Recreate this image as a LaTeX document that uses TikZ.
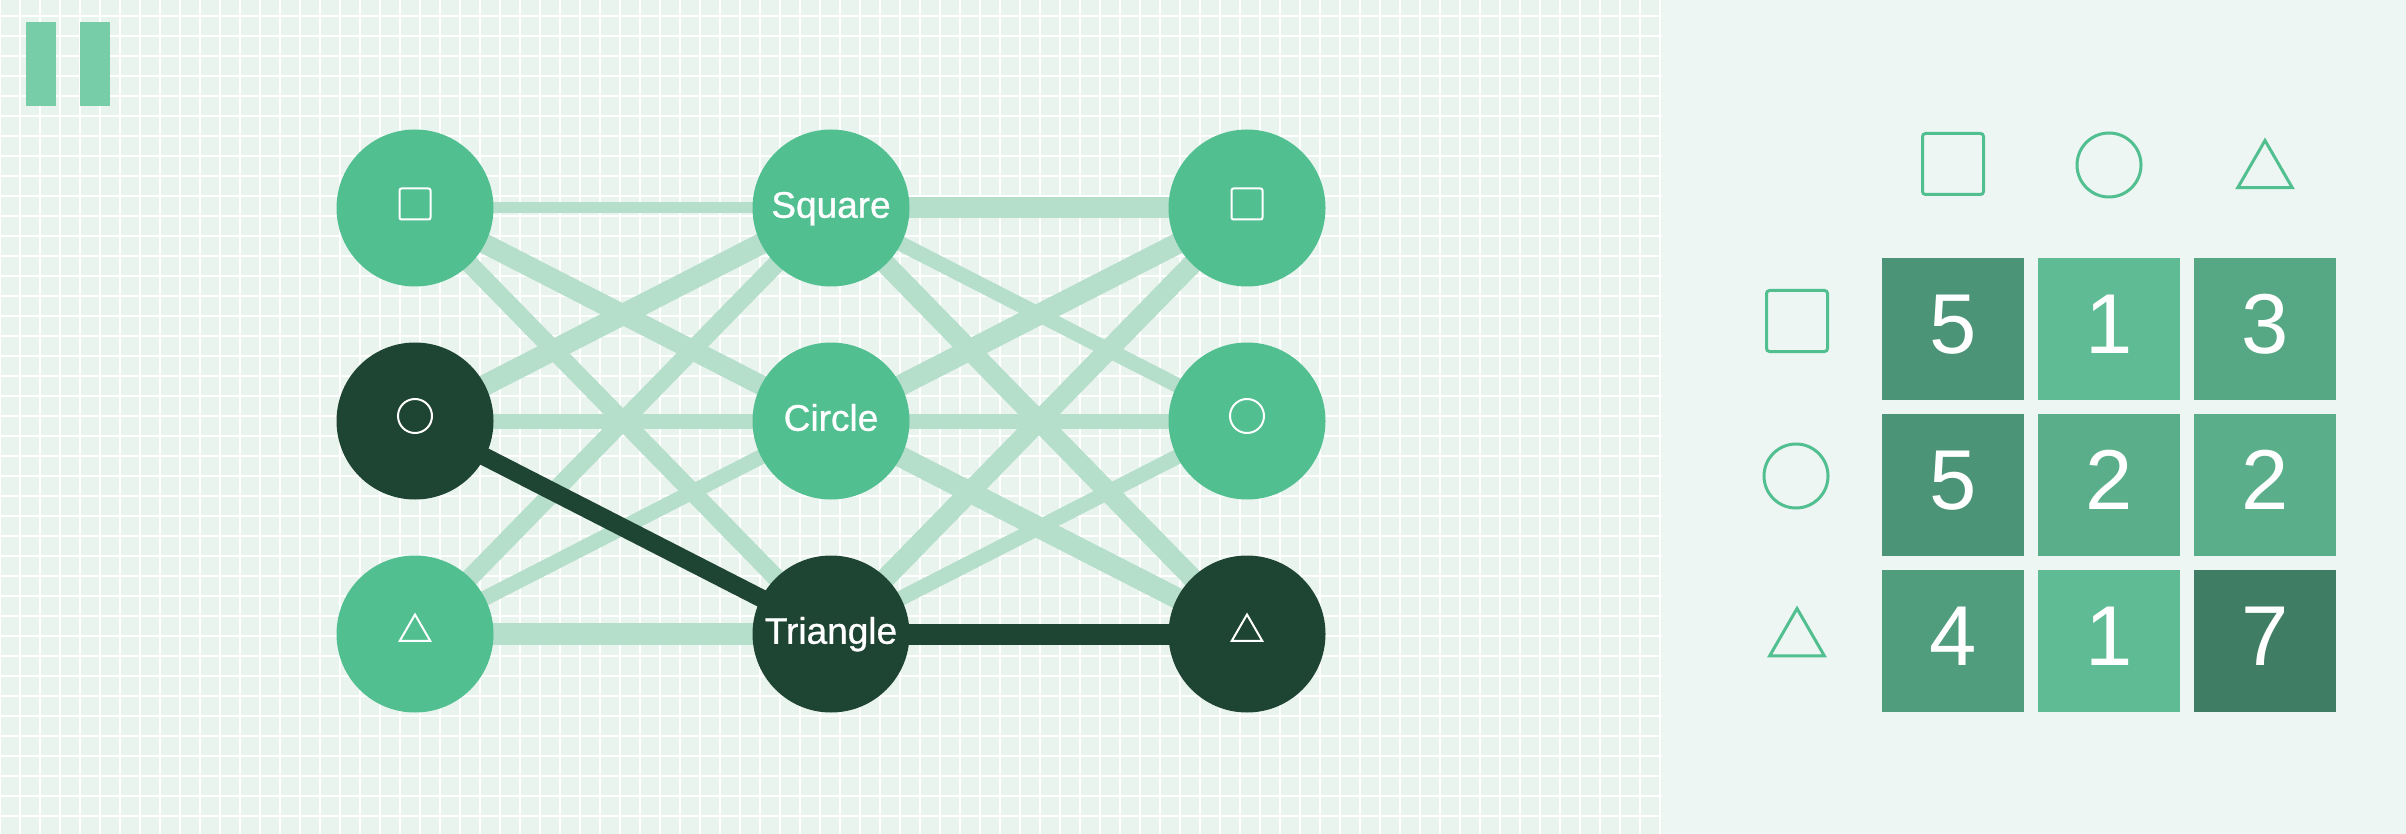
\documentclass[tikz,border=0pt]{standalone}
\usepackage{fontspec}
\setmainfont{Liberation Sans}
\newfontfamily\lblfont[FakeBold=0.8]{Liberation Sans}
\usetikzlibrary{shapes.geometric}
\definecolor{gridbg}{HTML}{EAF4EF}
\definecolor{panelbg}{HTML}{EDF6F2}
\definecolor{edgec}{HTML}{B5DECB}
\definecolor{nodec}{HTML}{52BF91}
\definecolor{darkc}{HTML}{1E4433}
\definecolor{pausec}{HTML}{76CDA8}
\definecolor{cA}{HTML}{4C9478}
\definecolor{cB}{HTML}{5FBB93}
\definecolor{cC}{HTML}{55A883}
\definecolor{cD}{HTML}{5AAF8A}
\definecolor{cE}{HTML}{509D7D}
\definecolor{cF}{HTML}{3F7E64}
\pgfdeclarelayer{bg}
\pgfdeclarelayer{edges}
\pgfsetlayers{bg,edges,main}
\begin{document}
\begin{tikzpicture}[x=1pt,y=-1pt,
  stnode/.style={circle, fill=nodec, minimum size=157pt, inner sep=0pt, text=white,
    font=\lblfont\fontsize{37}{37}\selectfont, text height=26.5pt, text depth=7pt},
  darknode/.style={stnode, fill=darkc},
  edge/.style={draw=edgec},
  darkedge/.style={draw=darkc},
  pausebar/.style={rectangle, fill=pausec, minimum width=30pt, minimum height=84pt, inner sep=0pt},
  sym/.style={draw=white, line width=2pt, inner sep=0pt, fill=none},
  symsq/.style={sym, rectangle, minimum size=31pt, rounded corners=2pt},
  symci/.style={sym, circle, minimum size=34pt},
  symtr/.style={sym, regular polygon, regular polygon sides=3, minimum size=35pt},
  hd/.style={draw=nodec, line width=3pt, inner sep=0pt, fill=none},
  hsq/.style={hd, rectangle, minimum size=61pt, rounded corners=3pt},
  hci/.style={hd, circle, minimum size=64pt},
  htr/.style={hd, regular polygon, regular polygon sides=3, minimum size=63pt},
  cell/.style={rectangle, minimum size=142pt, inner sep=0pt, text=white,
    font=\fontsize{85}{85}\selectfont, text height=61pt, text depth=12pt}
]
\useasboundingbox (0,0) rectangle (2406,834);
\begin{pgfonlayer}{bg}
  \fill[gridbg] (0,0) rectangle (1662,834);
  \fill[panelbg] (1662,0) rectangle (2406,834);
  \foreach \x in {0,20,...,1660} \draw[white,line width=2pt] (\x,0) -- (\x,834);
  \foreach \y in {16,36,...,836} \draw[white,line width=2pt] (0,\y) -- (1662,\y);
\end{pgfonlayer}

% pause icon
\node[pausebar] (p1) at (41,64) {};
\node[pausebar] (p2) at (95,64) {};

% trellis nodes
\node[stnode] (ls) at (415,208) {};
\node[darknode] (lc) at (415,421) {};
\node[stnode] (lt) at (415,634) {};
\node[stnode] (ms) at (831,208) {Square};
\node[stnode] (mc) at (831,421) {Circle};
\node[darknode] (mt) at (831,634) {Triangle};
\node[stnode] (rs) at (1247,208) {};
\node[stnode] (rc) at (1247,421) {};
\node[darknode] (rt) at (1247,634) {};

% symbols in nodes
\node[symsq] (ls-i) at (415,204) {};
\node[symci] (lc-i) at (415,416) {};
\node[symtr] (lt-i) at (415,632) {};
\node[symsq] (rs-i) at (1247,204) {};
\node[symci] (rc-i) at (1247,416) {};
\node[symtr] (rt-i) at (1247,632) {};

\begin{pgfonlayer}{edges}
  \draw[edge, line width=11pt] (ls.center) -- (ms.center);
  \draw[edge, line width=20pt] (ls.center) -- (mc.center);
  \draw[edge, line width=18pt] (ls.center) -- (mt.center);
  \draw[edge, line width=21pt] (lc.center) -- (ms.center);
  \draw[edge, line width=15pt] (lc.center) -- (mc.center);
  \draw[edge, line width=18pt] (lt.center) -- (ms.center);
  \draw[edge, line width=15pt] (lt.center) -- (mc.center);
  \draw[edge, line width=22pt] (lt.center) -- (mt.center);
  \draw[edge, line width=21pt] (ms.center) -- (rs.center);
  \draw[edge, line width=15pt] (ms.center) -- (rc.center);
  \draw[edge, line width=20pt] (ms.center) -- (rt.center);
  \draw[edge, line width=21pt] (mc.center) -- (rs.center);
  \draw[edge, line width=15pt] (mc.center) -- (rc.center);
  \draw[edge, line width=21pt] (mc.center) -- (rt.center);
  \draw[edge, line width=20pt] (mt.center) -- (rs.center);
  \draw[edge, line width=15pt] (mt.center) -- (rc.center);
  \draw[darkedge, line width=18pt] (lc.center) -- (mt.center);
  \draw[darkedge, line width=21pt] (mt.center) -- (rt.center);
\end{pgfonlayer}

% right panel headers
\node[hsq] (h-sq) at (1953,164) {};
\node[hci] (h-ci) at (2109,165) {};
\node[htr] (h-tr) at (2265,172) {};
\node[hsq] (v-sq) at (1797,321) {};
\node[hci] (v-ci) at (1796,476) {};
\node[htr] (v-tr) at (1797,640) {};

% matrix cells
\node[cell, fill=cA] (m11) at (1953,329) {5};
\node[cell, fill=cB] (m12) at (2109,329) {1};
\node[cell, fill=cC] (m13) at (2265,329) {3};
\node[cell, fill=cA] (m21) at (1953,485) {5};
\node[cell, fill=cD] (m22) at (2109,485) {2};
\node[cell, fill=cD] (m23) at (2265,485) {2};
\node[cell, fill=cE] (m31) at (1953,641) {4};
\node[cell, fill=cB] (m32) at (2109,641) {1};
\node[cell, fill=cF] (m33) at (2265,641) {7};
\end{tikzpicture}
\end{document}
